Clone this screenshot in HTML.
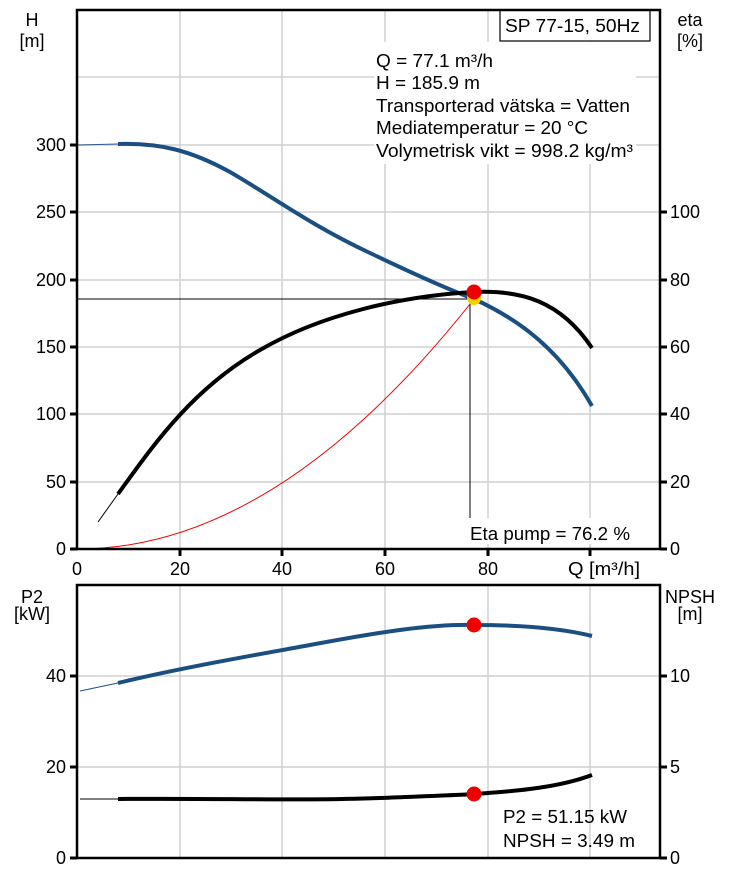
<!DOCTYPE html>
<html><head><style>
body{margin:0;background:#fff;}
svg{display:block;font-family:"Liberation Sans",sans-serif;}
</style></head><body>
<svg width="742" height="873" viewBox="0 0 742 873" xmlns="http://www.w3.org/2000/svg">
<rect width="742" height="873" fill="#fff"/>
<g stroke="#d0d0d0" stroke-width="1.5">
<line x1="180" y1="10" x2="180" y2="549"/><line x1="282" y1="10" x2="282" y2="549"/>
<line x1="385" y1="10" x2="385" y2="549"/><line x1="488" y1="10" x2="488" y2="549"/>
<line x1="590" y1="10" x2="590" y2="549"/>
<line x1="78" y1="77" x2="660" y2="77"/><line x1="78" y1="145" x2="660" y2="145"/>
<line x1="78" y1="212" x2="660" y2="212"/><line x1="78" y1="280" x2="660" y2="280"/>
<line x1="78" y1="347" x2="660" y2="347"/><line x1="78" y1="414" x2="660" y2="414"/>
<line x1="78" y1="482" x2="660" y2="482"/>
</g>
<g stroke="#d0d0d0" stroke-width="1.5">
<line x1="180" y1="585" x2="180" y2="858"/><line x1="282" y1="585" x2="282" y2="858"/>
<line x1="385" y1="585" x2="385" y2="858"/><line x1="488" y1="585" x2="488" y2="858"/>
<line x1="590" y1="585" x2="590" y2="858"/>
<line x1="78" y1="676" x2="660" y2="676"/><line x1="78" y1="767" x2="660" y2="767"/>
</g>
<rect x="374" y="42" width="262" height="122" fill="#fff"/>
<rect x="500" y="10" width="150" height="31" fill="#fff" stroke="#000" stroke-width="1.2"/>
<text x="505" y="32" font-size="18" textLength="135" lengthAdjust="spacingAndGlyphs">SP 77-15, 50Hz</text>
<g font-size="18">
<text x="376" y="67" textLength="117" lengthAdjust="spacingAndGlyphs">Q = 77.1 m³/h</text>
<text x="376" y="89" textLength="104" lengthAdjust="spacingAndGlyphs">H = 185.9 m</text>
<text x="376" y="112" textLength="254" lengthAdjust="spacingAndGlyphs">Transporterad vätska = Vatten</text>
<text x="376" y="134" textLength="212" lengthAdjust="spacingAndGlyphs">Mediatemperatur = 20 °C</text>
<text x="376" y="157" textLength="257" lengthAdjust="spacingAndGlyphs">Volymetrisk vikt = 998.2 kg/m³</text>
</g>
<line x1="78" y1="299" x2="474" y2="299" stroke="#000" stroke-width="1"/>
<line x1="470" y1="299" x2="470" y2="525" stroke="#000" stroke-width="1"/>
<path d="M78,549 Q277,549 474,299" fill="none" stroke="#e00" stroke-width="1"/>
<path d="M78,145 L118,144" stroke="#2a5a8a" stroke-width="1" fill="none"/>
<path d="M118,144 C160,143 190,150 230,172 C270,195 310,225 370,253 C420,277 450,290 474,299 C520,320 560,350 592,406" fill="none" stroke="#1b4f82" stroke-width="4"/>
<path d="M98,522 L118,494" stroke="#000" stroke-width="1" fill="none"/>
<path d="M118,494 C150,450 190,390 260,350 C320,315 400,296 474,292 C520,290 560,300 592,348" fill="none" stroke="#000" stroke-width="4"/>
<circle cx="474" cy="298" r="7" fill="#f5d000"/>
<circle cx="474" cy="292" r="7.5" fill="#e00"/>
<rect x="466" y="518" width="170" height="26" fill="#fff"/>
<text x="470" y="540" font-size="18" textLength="160" lengthAdjust="spacingAndGlyphs">Eta pump = 76.2 %</text>
<rect x="77" y="10" width="583" height="539" fill="none" stroke="#000" stroke-width="2.5"/>
<g stroke="#000" stroke-width="3">
<line x1="70" y1="145" x2="77" y2="145"/><line x1="70" y1="212" x2="77" y2="212"/>
<line x1="70" y1="280" x2="77" y2="280"/><line x1="70" y1="347" x2="77" y2="347"/>
<line x1="70" y1="414" x2="77" y2="414"/><line x1="70" y1="482" x2="77" y2="482"/>
<line x1="70" y1="549" x2="77" y2="549"/>
<line x1="660" y1="212" x2="667" y2="212"/><line x1="660" y1="280" x2="667" y2="280"/>
<line x1="660" y1="347" x2="667" y2="347"/><line x1="660" y1="414" x2="667" y2="414"/>
<line x1="660" y1="482" x2="667" y2="482"/><line x1="660" y1="549" x2="667" y2="549"/>
<line x1="180" y1="549" x2="180" y2="556"/><line x1="282" y1="549" x2="282" y2="556"/>
<line x1="385" y1="549" x2="385" y2="556"/><line x1="488" y1="549" x2="488" y2="556"/>
<line x1="590" y1="549" x2="590" y2="556"/>
</g>
<g font-size="18">
<text x="32" y="26" text-anchor="middle">H</text>
<text x="32" y="47" text-anchor="middle">[m]</text>
<text x="690" y="26" text-anchor="middle">eta</text>
<text x="690" y="47" text-anchor="middle">[%]</text>
<g text-anchor="end">
<text x="66" y="151">300</text><text x="66" y="218">250</text><text x="66" y="286">200</text>
<text x="66" y="353">150</text><text x="66" y="420">100</text><text x="66" y="488">50</text>
<text x="66" y="555">0</text>
</g>
<text x="670" y="218">100</text><text x="670" y="286">80</text><text x="670" y="353">60</text>
<text x="670" y="420">40</text><text x="670" y="488">20</text><text x="670" y="555">0</text>
<g text-anchor="middle">
<text x="77" y="575">0</text><text x="180" y="575">20</text><text x="282" y="575">40</text>
<text x="385" y="575">60</text><text x="488" y="575">80</text>
</g>
<text x="568" y="575" textLength="72" lengthAdjust="spacingAndGlyphs">Q [m³/h]</text>
</g>
<path d="M80,691 L118,683" stroke="#1b4f82" stroke-width="1" fill="none"/>
<path d="M118,683 C180,668 250,656 310,645 C380,632 430,624 474,625 C520,625 560,628 592,636" fill="none" stroke="#1b4f82" stroke-width="4"/>
<path d="M80,799 L118,799" stroke="#000" stroke-width="1" fill="none"/>
<path d="M118,799 C220,798 300,801 380,798 C430,796 460,795 474,794 C520,791 560,787 592,775" fill="none" stroke="#000" stroke-width="4"/>
<circle cx="474" cy="625" r="7.5" fill="#e00"/>
<circle cx="474" cy="794" r="7.5" fill="#e00"/>
<g font-size="18">
<text x="503" y="823" textLength="124" lengthAdjust="spacingAndGlyphs">P2 = 51.15 kW</text>
<text x="503" y="847" textLength="132" lengthAdjust="spacingAndGlyphs">NPSH = 3.49 m</text>
</g>
<rect x="77" y="585" width="583" height="273" fill="none" stroke="#000" stroke-width="2.5"/>
<g stroke="#000" stroke-width="3">
<line x1="70" y1="676" x2="77" y2="676"/><line x1="70" y1="767" x2="77" y2="767"/>
<line x1="70" y1="858" x2="77" y2="858"/>
<line x1="660" y1="676" x2="667" y2="676"/><line x1="660" y1="767" x2="667" y2="767"/>
<line x1="660" y1="858" x2="667" y2="858"/>
</g>
<g font-size="18">
<text x="32" y="603" text-anchor="middle">P2</text>
<text x="32" y="620" text-anchor="middle">[kW]</text>
<text x="690" y="603" text-anchor="middle">NPSH</text>
<text x="690" y="620" text-anchor="middle">[m]</text>
<g text-anchor="end">
<text x="66" y="682">40</text><text x="66" y="773">20</text><text x="66" y="864">0</text>
</g>
<text x="670" y="682">10</text><text x="670" y="773">5</text><text x="670" y="864">0</text>
</g>
</svg>
</body></html>
